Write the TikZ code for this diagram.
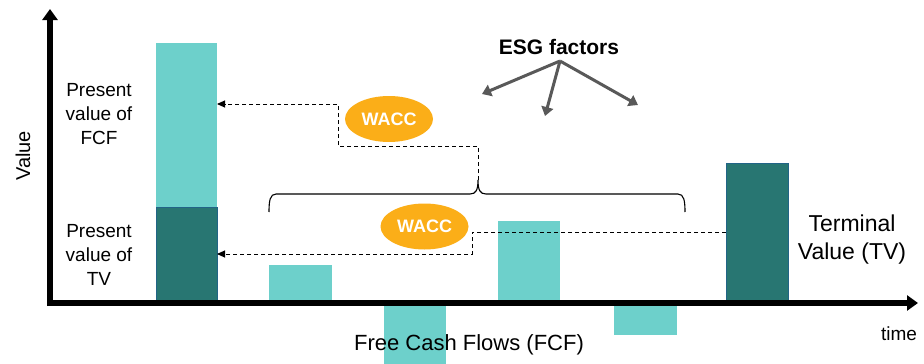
\documentclass[tikz,border=0pt]{standalone}
\usepackage{fontspec}
\setmainfont{Liberation Sans}
\usetikzlibrary{arrows.meta,shapes.geometric}
\definecolor{tealL}{HTML}{6DD0CB}
\definecolor{tealD}{HTML}{287672}
\definecolor{waccO}{HTML}{FBAE18}
\definecolor{esgG}{HTML}{595959}

\begin{document}
\begin{tikzpicture}[x=1pt,y=-1pt,
  barbox/.style={inner sep=0pt, outer sep=0pt, anchor=north west},
  lightbar/.style={barbox, fill=tealL},
  darkbar/.style={barbox, fill=tealD, draw=tealD!85!blue, line width=0.8pt},
  axisline/.style={line width=6pt, -{Triangle[length=11pt,width=15pt]}},
  dashline/.style={line width=0.9pt, dash pattern=on 4pt off 3pt, -{Triangle[length=8pt,width=7pt]}},
  wacc/.style={ellipse, fill=waccO, minimum width=88pt, minimum height=46pt, inner sep=0pt,
    text=white, font=\bfseries\fontsize{18}{20}\selectfont},
  esgarrow/.style={draw=esgG, line width=3pt, -{Triangle[length=9pt,width=12pt]}},
  lbl/.style={align=center, inner sep=0pt},
]
\useasboundingbox (0,0) rectangle (924,364);

% bars
\node[lightbar, minimum width=61pt, minimum height=164pt] (pvf) at (156,43) {};
\node[darkbar, minimum width=61pt, minimum height=93pt] (pvt) at (156,207) {};
\node[lightbar, minimum width=63pt, minimum height=35pt] (cf1) at (269,265) {};
\node[lightbar, minimum width=62pt, minimum height=60pt] (cf2) at (384,304) {};
\node[lightbar, minimum width=62pt, minimum height=79pt] (cf3) at (498,221) {};
\node[lightbar, minimum width=63pt, minimum height=31pt] (cf4) at (614,304) {};
\node[darkbar, minimum width=62pt, minimum height=137pt] (tv) at (726,163) {};

% axes
\coordinate (origin) at (50,303);
\coordinate (ytop) at (50,9);
\coordinate (xend) at (918,303);
\draw[axisline] (50,306) -- (ytop);
\draw[axisline] (47,303) -- (xend);

% brace over the cash flows
\coordinate (brtip) at (478,180);
\draw[line width=1.1pt] (269,212) .. controls (269,201) and (270,194) .. (276,194)
  -- (470,194) .. controls (476,194) and (478,190) .. (brtip)
  .. controls (478,190) and (480,194) .. (486,194)
  -- (678,194) .. controls (684,194) and (685,201) .. (685,212);

% discounting paths
\coordinate (k1) at (338,146);
\coordinate (k2) at (338,104);
\draw[dashline] (brtip) |- (k1) -- (k2) -- (pvf.east |- k2);
\coordinate (k3) at (472,232);
\coordinate (k4) at (472,254);
\draw[dashline] (tv.west |- k3) -- (k3) -- (k4) -- (pvt.east |- k4);

% discount rates
\node[wacc] (w1) at (389,119) {WACC};
\node[wacc] (w2) at (424.5,226.5) {WACC};

% ESG factors
\node[font=\bfseries\fontsize{21}{24}\selectfont, inner sep=0pt] (esg) at (559,47) {ESG factors};
\coordinate (eo) at (560,61);
\coordinate (e1) at (482,94);
\coordinate (e2) at (545,116);
\coordinate (e3) at (638,105);
\draw[esgarrow] (eo) -- (e1);
\draw[esgarrow] (eo) -- (e2);
\draw[esgarrow] (eo) -- (e3);

% labels
\node[lbl, font=\fontsize{19}{24}\selectfont] (lpvf) at (99,114) {Present\\value of\\FCF};
\node[lbl, font=\fontsize{19}{24}\selectfont] (lpvt) at (99,255) {Present\\value of\\TV};
\node[lbl, font=\fontsize{23}{28}\selectfont] (ltv) at (852,240) {Terminal\\Value (TV)};
\node[lbl, font=\fontsize{22}{26}\selectfont, anchor=base] (lfcf) at (469,350) {Free Cash Flows (FCF)};
\node[lbl, font=\fontsize{19}{22}\selectfont, anchor=base] (ltime) at (899,340) {time};
\node[lbl, font=\fontsize{20}{24}\selectfont, rotate=90] (lval) at (23,156) {Value};
\end{tikzpicture}
\end{document}
